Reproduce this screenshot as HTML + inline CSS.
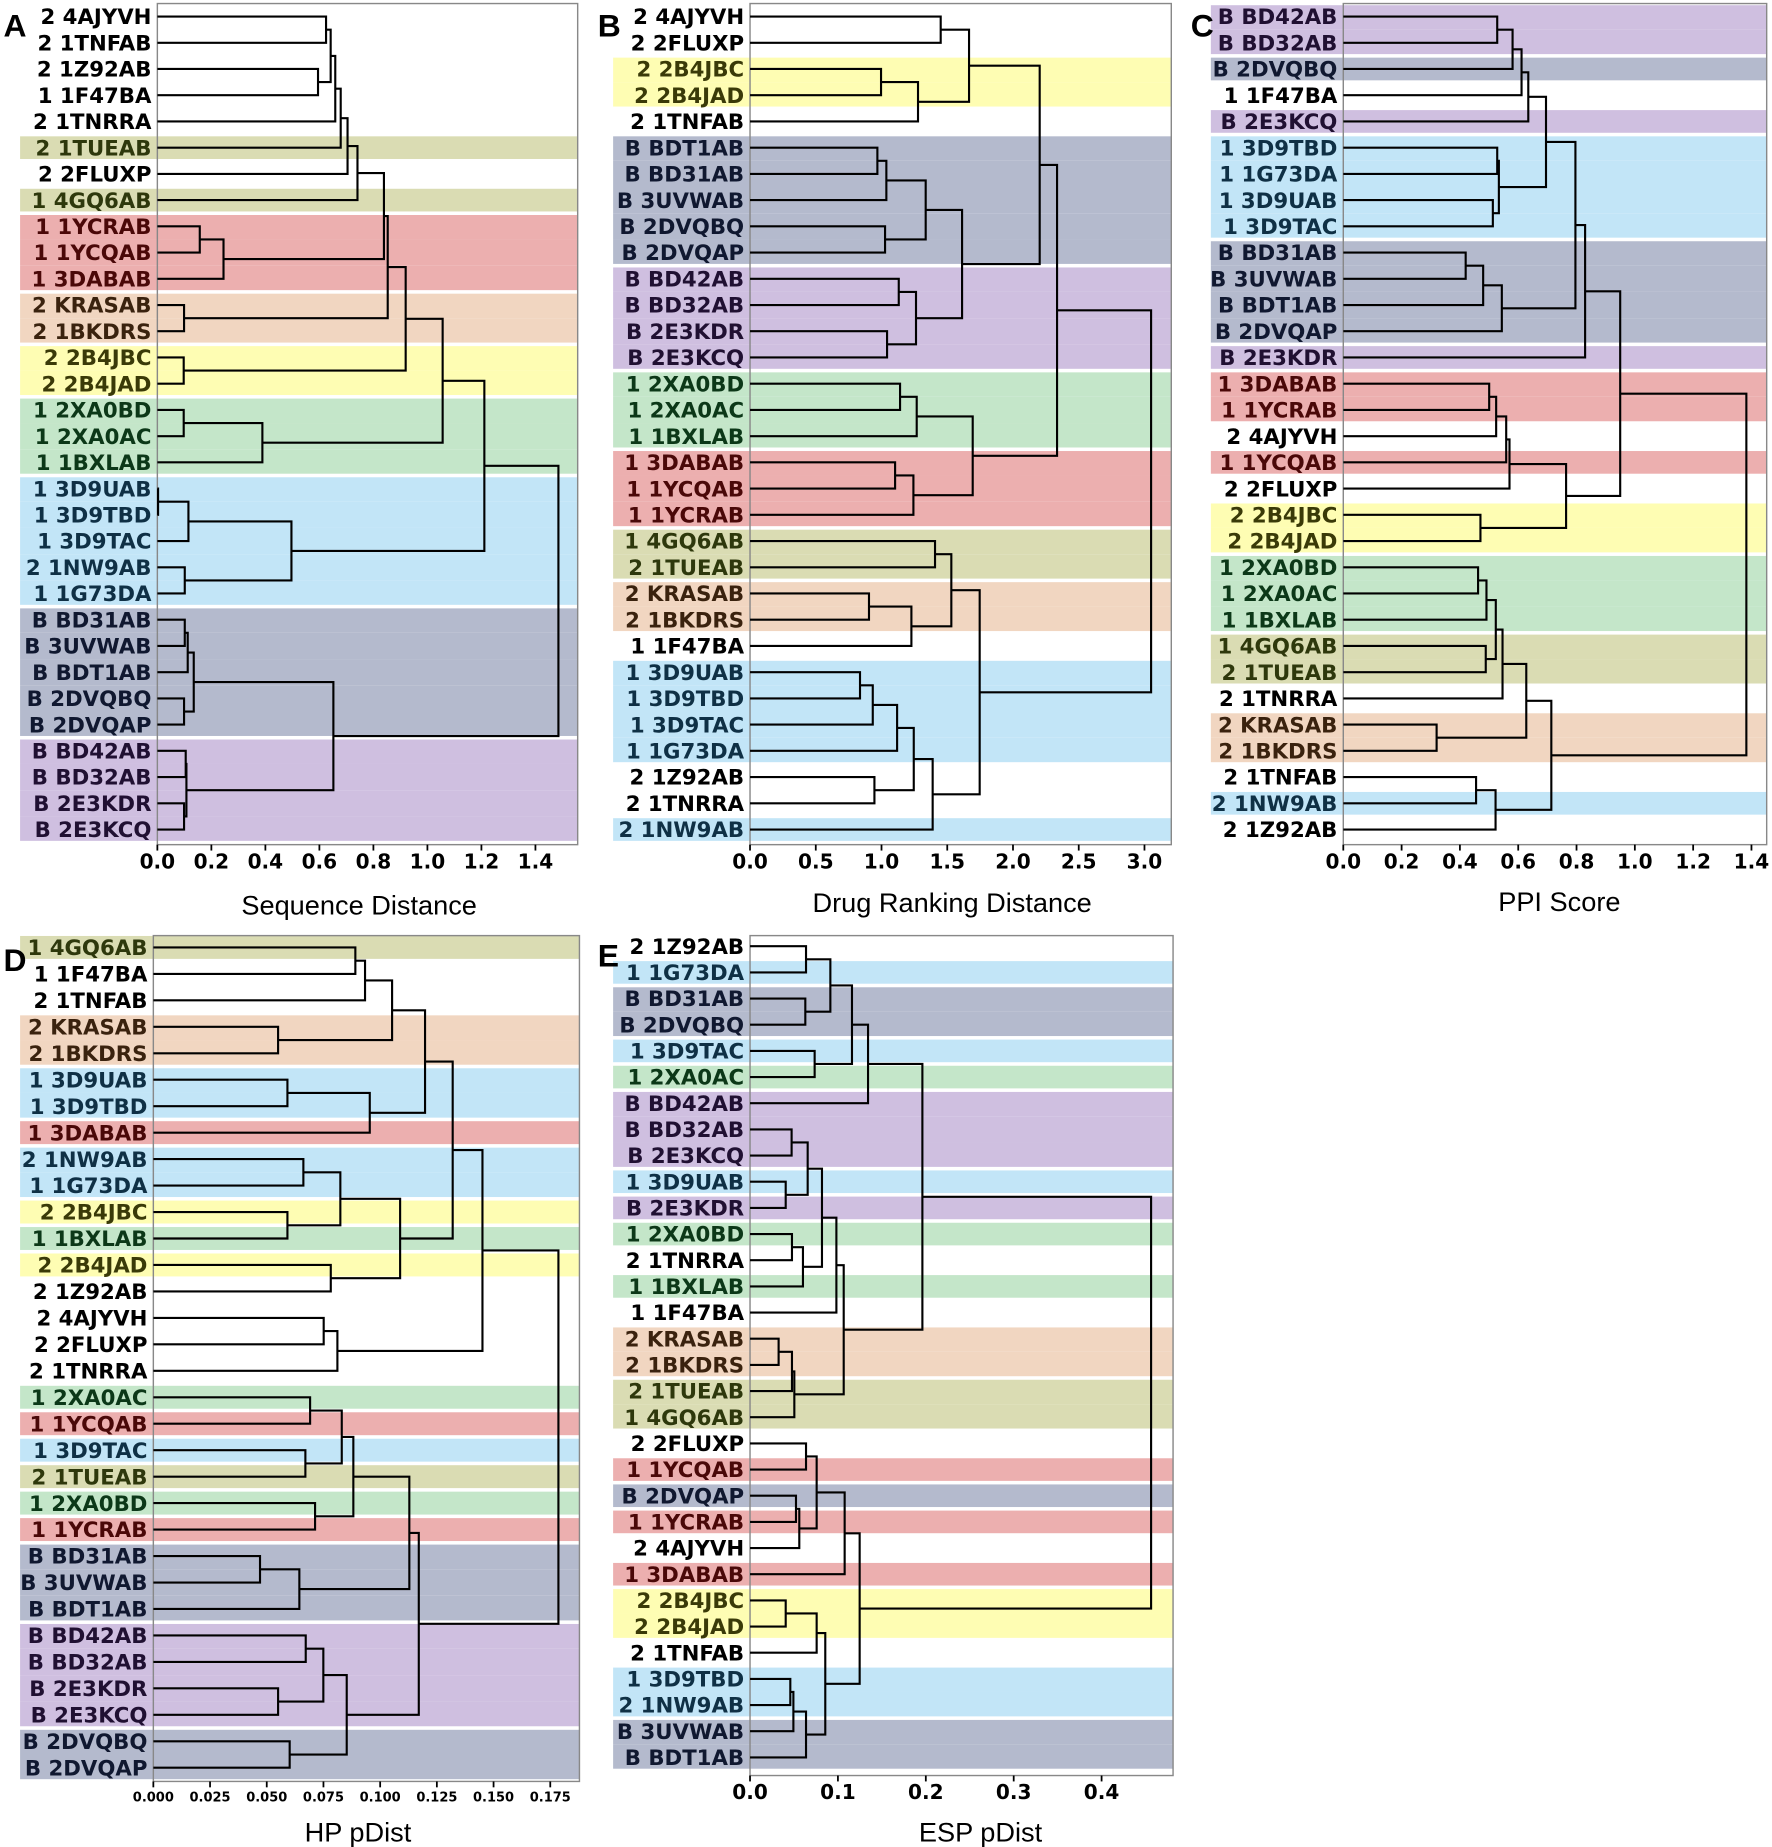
<!DOCTYPE html>
<html><head><meta charset="utf-8">
<style>
html,body{margin:0;padding:0;background:#fff;}
svg{display:block;}
text{font-family:"DejaVu Sans","Liberation Sans",sans-serif;}
</style></head>
<body>
<svg id="s" xmlns="http://www.w3.org/2000/svg" width="1772" height="1847" viewBox="0 0 1500 1563.5">
<rect width="1500" height="1563.5" fill="#fff"/>
</svg>
<script>
const NS="http://www.w3.org/2000/svg";
const svg=document.getElementById('s');
function el(tag,attrs,txt){const e=document.createElementNS(NS,tag);for(const k in attrs)e.setAttribute(k,attrs[k]);if(txt!==undefined)e.textContent=txt;svg.appendChild(e);return e;}
const pre={'4AJYVH':'2','1TNFAB':'2','1Z92AB':'2','1F47BA':'1','1TNRRA':'2','1TUEAB':'2','2FLUXP':'2','4GQ6AB':'1','1YCRAB':'1','1YCQAB':'1','3DABAB':'1','KRASAB':'2','1BKDRS':'2','2B4JBC':'2','2B4JAD':'2','2XA0BD':'1','2XA0AC':'1','1BXLAB':'1','3D9UAB':'1','3D9TBD':'1','3D9TAC':'1','1NW9AB':'2','1G73DA':'1'};
const cat={'4GQ6AB':'ol','1TUEAB':'ol','1YCRAB':'re','1YCQAB':'re','3DABAB':'re','KRASAB':'pe','1BKDRS':'pe','2B4JBC':'ye','2B4JAD':'ye','2XA0BD':'gr','2XA0AC':'gr','1BXLAB':'gr','3D9UAB':'bl','3D9TBD':'bl','3D9TAC':'bl','1NW9AB':'bl','1G73DA':'bl','BD31AB':'ga','3UVWAB':'ga','BDT1AB':'ga','2DVQBQ':'ga','2DVQAP':'ga','BD42AB':'pu','BD32AB':'pu','2E3KDR':'pu','2E3KCQ':'pu'};
const bandCol={ol:'#dadcb3',re:'#ecafaf',pe:'#f1d6c1',ye:'#fefdb3',gr:'#c4e6c9',bl:'#c2e5f7',ga:'#b4bacd',pu:'#cfbfe0'};
const txtCol={ol:'#2e380c',re:'#4a0808',pe:'#3a220e',ye:'#3a3a08',gr:'#0c3818',bl:'#0f3045',ga:'#101830',pu:'#201032'};

function leaves(t,out){if(typeof t==='string'){out.push(t);return out;}leaves(t[1],out);leaves(t[2],out);return out;}

function panel(o){
  const lv=leaves(o.tree,[]);
  const ypos={};lv.forEach((n,i)=>ypos[n]=o.y0+i*o.step);
  lv.forEach((n,i)=>{const c=cat[n];if(!c)return;
    const up=i>0?cat[lv[i-1]]:null, dn=i<lv.length-1?cat[lv[i+1]]:null;
    let top=ypos[n]-o.step/2, bot=ypos[n]+o.step/2;
    if(up!==c)top+=1.5; if(dn!==c)bot-=1.5;
    el('rect',{x:o.bx,y:top,width:o.bx2-o.bx,height:bot-top,fill:bandCol[c]});
  });
  el('rect',{x:o.x0,y:o.top,width:o.xr-o.x0,height:o.bottom-o.top,fill:'none',stroke:'#888','stroke-width':1.2});
  lv.forEach(n=>{const c=cat[n];el('text',{x:o.x0-5,y:ypos[n]+6.5,'text-anchor':'end','font-size':18,'font-weight':'bold',fill:c?txtCol[c]:'#000'},(pre[n]||'B')+' '+n);});
  let d='';
  function draw(t){if(typeof t==='string')return [o.x0,ypos[t]];
    const a=draw(t[1]),b=draw(t[2]),h=t[0];
    d+=`M${a[0]},${a[1]}H${h}V${b[1]}H${b[0]}`;
    return [h,(a[1]+b[1])/2];}
  draw(o.tree);
  el('path',{d:d,fill:'none',stroke:'#000','stroke-width':1.8});
  o.ticks.forEach(tk=>{const x=o.x0+tk[0]*o.sc;
    el('line',{x1:x,y1:o.bottom,x2:x,y2:o.bottom+5,stroke:'#000','stroke-width':1.5});
    el('text',{x:x,y:o.tly,'text-anchor':'middle','font-size':o.tfs,'font-weight':'bold',fill:'#000'},tk[1]);});
  el('text',{x:o.titx,y:o.tity,'text-anchor':'middle','font-size':23,fill:'#000',style:'font-family:"Liberation Sans",sans-serif'},o.title);
  el('text',{x:o.lx,y:o.ly,'font-size':27,'font-weight':'bold',fill:'#000',style:'font-family:"Liberation Sans",sans-serif'},o.letter);
}
function mk(n,st,dec){const r=[];for(let i=0;i<n;i++)r.push([i*st,(i*st).toFixed(dec)]);return r;}

const A=[472.7,
 [410,
  [374.7,
   [343.4,
    [328.2,
     [325,
      [302.6,[294.2,[288.4,[283.8,[279.9,[276,'4AJYVH','1TNFAB'],[269.2,'1Z92AB','1F47BA']],'1TNRRA'],'1TUEAB'],'2FLUXP'],'4GQ6AB'],
      [189.2,[169.1,'1YCRAB','1YCQAB'],'3DABAB']],
     [155.8,'KRASAB','1BKDRS']],
    [155.5,'2B4JBC','2B4JAD']],
   [222.1,[155.5,'2XA0BD','2XA0AC'],'1BXLAB']],
  [246.7,[159.5,[133.8,'3D9UAB','3D9TBD'],'3D9TAC'],[156.4,'1NW9AB','1G73DA']]],
 [282.2,[164,[158.9,[156.4,'BD31AB','3UVWAB'],'BDT1AB'],[155.8,'2DVQBQ','2DVQAP']],[157.8,[157.2,'BD42AB','BD32AB'],[155.8,'2E3KDR','2E3KCQ']]]];

const B=[974.4,
 [894.8,
  [880.1,
   [820.3,[796.3,'4AJYVH','2FLUXP'],[777.1,[745.8,'2B4JBC','2B4JAD'],'1TNFAB']],
   [814.4,[783.6,[750.3,[742.7,'BDT1AB','BD31AB'],'3UVWAB'],[749.2,'2DVQBQ','2DVQAP']],[775.4,[760.8,'BD42AB','BD32AB'],[750.9,'2E3KDR','2E3KCQ']]]],
  [823.4,[776,[761.9,'2XA0BD','2XA0AC'],'1BXLAB'],[773.2,[757.7,'3DABAB','1YCQAB'],'1YCRAB']]],
 [829.3,
  [805.3,[791.5,'4GQ6AB','1TUEAB'],[771.5,[735.6,'KRASAB','1BKDRS'],'1F47BA']],
  [789.5,[773.5,[759.4,[738.8,[728,'3D9UAB','3D9TBD'],'3D9TAC'],'1G73DA'],[740.2,'1Z92AB','1TNRRA']],'1NW9AB']]];

const C=[1478.3,
 [1371.5,
  [1341.8,[1333.6,[1308.7,[1293.7,[1288,[1280.4,[1267.4,'BD42AB','BD32AB'],'2DVQBQ'],'1F47BA'],'2E3KCQ'],[1268.8,[1267.4,'3D9TBD','1G73DA'],[1263.7,'3D9UAB','3D9TAC']]],
     [1271.3,[1255.5,[1240.7,'BD31AB','3UVWAB'],'BDT1AB'],'2DVQAP']],'2E3KDR'],
  [1325.7,[1277.8,[1275,[1266.5,[1260.6,'3DABAB','1YCRAB'],'4AJYVH'],'1YCQAB'],'2FLUXP'],[1253.2,'2B4JBC','2B4JAD']]],
 [1313.2,
  [1292,[1271.9,[1266.2,[1258.3,[1251.2,'2XA0BD','2XA0AC'],'1BXLAB'],[1257.7,'4GQ6AB','1TUEAB']],'1TNRRA'],[1216.1,'KRASAB','1BKDRS']],
  [1266,[1249.5,'1TNFAB','1NW9AB'],'1Z92AB']]];

const D=[472.7,
 [408.4,
  [383.2,
   [359.8,[331.9,[309,[300.8,'4GQ6AB','1F47BA'],'1TNFAB'],[235.4,'KRASAB','1BKDRS']],[313,[243.3,'3D9UAB','3D9TBD'],'3DABAB']],
   [338.7,[288.1,[256.8,'1NW9AB','1G73DA'],[243.3,'2B4JBC','1BXLAB']],[280,'2B4JAD','1Z92AB']]],
  [285.6,[274,'4AJYVH','2FLUXP'],'1TNRRA']],
 [354.5,
  [346.5,[299.1,[289.3,[262.5,'2XA0AC','1YCQAB'],[258.5,'3D9TAC','1TUEAB']],[266.7,'2XA0BD','1YCRAB']],[253.4,[220.1,'BD31AB','3UVWAB'],'BDT1AB']],
  [293.5,[273.7,[258.8,'BD42AB','BD32AB'],[235.4,'2E3KDR','2E3KCQ']],[245.2,'2DVQBQ','2DVQAP']]]];

const E=[974.4,
 [780.8,
  [734.8,[721.2,[702.9,[682.3,'1Z92AB','1G73DA'],[681.7,'BD31AB','2DVQBQ']],[689.6,'3D9TAC','2XA0AC']],'BD42AB'],
  [714.2,[708,[695.8,[683.7,[670.1,'BD32AB','2E3KCQ'],[665.1,'3D9UAB','2E3KDR']],[679.7,[670.4,'2XA0BD','1TNRRA'],'1BXLAB']],'1F47BA'],[672.4,[670.4,[659.1,'KRASAB','1BKDRS'],'1TUEAB'],'4GQ6AB']]],
 [727.7,
  [715,[691.3,[682.3,'2FLUXP','1YCQAB'],[676.6,[673.8,'2DVQAP','1YCRAB'],'4AJYVH']],'3DABAB'],
  [698.6,[691.3,[665.1,'2B4JBC','2B4JAD'],'1TNFAB'],[682.3,[671.6,[669,'3D9TBD','1NW9AB'],'3UVWAB'],'BDT1AB']]]];

panel({tree:A,x0:133.2,xr:489,top:3,bottom:715,y0:14,step:22.2,bx:17,bx2:489,sc:228.6,ticks:mk(8,0.2,1),tly:735,tfs:17,title:'Sequence Distance',titx:304,tity:774,letter:'A',lx:3,ly:31});
panel({tree:B,x0:634.9,xr:991.5,top:3,bottom:715,y0:14,step:22.2,bx:519,bx2:991.5,sc:111.3,ticks:mk(7,0.5,1),tly:735,tfs:17,title:'Drug Ranking Distance',titx:806,tity:772,letter:'B',lx:506,ly:31});
panel({tree:C,x0:1137.1,xr:1495.5,top:3,bottom:715,y0:14,step:22.2,bx:1025,bx2:1495.5,sc:246.8,ticks:mk(8,0.2,1),tly:735,tfs:17,title:'PPI Score',titx:1320,tity:771,letter:'C',lx:1008,ly:31});
panel({tree:D,x0:129.8,xr:490.5,top:792,bottom:1508,y0:802,step:22.4,bx:17,bx2:490.5,sc:1920,ticks:mk(8,0.025,3),tly:1525,tfs:11,title:'HP pDist',titx:303,tity:1559,letter:'D',lx:3,ly:822});
panel({tree:E,x0:634.9,xr:993,top:792,bottom:1503,y0:801,step:22.15,bx:519,bx2:993,sc:744,ticks:mk(5,0.1,1),tly:1523,tfs:17,title:'ESP pDist',titx:830,tity:1559,letter:'E',lx:506,ly:818});
</script>
</body></html>
